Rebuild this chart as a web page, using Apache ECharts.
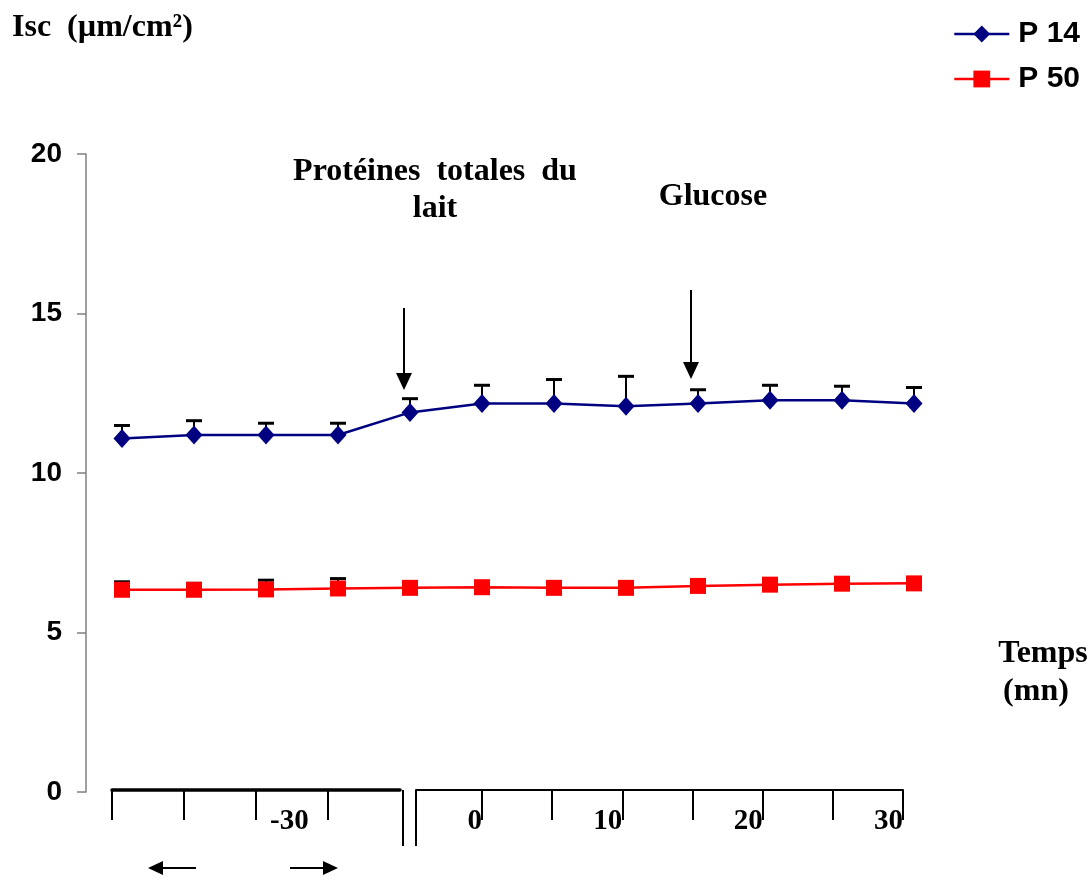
<!DOCTYPE html>
<html><head><meta charset="utf-8">
<script src="https://cdn.jsdelivr.net/npm/echarts@6/dist/echarts.min.js"></script>
<style>html,body{margin:0;padding:0;background:#fff}#c{width:1091px;height:879px}</style>
</head><body><div id="c"></div>
<script>
const categories = ['-25','-20','-15','-10','-5','0','5','10','15','20','25','30'];
const p14 = [11.08,11.19,11.19,11.19,11.90,12.18,12.18,12.09,12.18,12.28,12.28,12.18];
const p14Err = [0.41,0.45,0.37,0.37,0.43,0.57,0.75,0.94,0.43,0.47,0.44,0.50];
const p50 = [6.34,6.34,6.35,6.38,6.40,6.42,6.40,6.40,6.46,6.50,6.53,6.54];
const p50Err = [0.25,0.20,0.29,0.31,0.12,0.10,0.10,0.06,0.10,0.08,0.08,0.08];
const seriesNames = ['P 14','P 50'];
const leftTicks = [-40,-35,-30,-25];
const leftLabels = [-30];
const rightTicks = [0,5,10,15,20,25,30];
const rightLabels = [0,10,20,30];

const serif = 'Liberation Serif';
const sans = 'Liberation Sans';

function errRender(params, api){
  const x = api.value(0), v = api.value(1), e = api.value(2);
  const p0 = api.coord([x, v]);
  const p1 = api.coord([x, v + e]);
  const hw = 8;
  return {type:'group', children:[
    {type:'line', shape:{x1:p0[0],y1:p0[1],x2:p1[0],y2:p1[1]}, style:{stroke:'#000',lineWidth:2}},
    {type:'line', shape:{x1:p1[0]-hw,y1:p1[1],x2:p1[0]+hw,y2:p1[1]}, style:{stroke:'#000',lineWidth:3}}
  ]};
}
function downArrow(x, y1, y2){
  return [
    {type:'line', shape:{x1:x,y1:y1,x2:x,y2:y2-12}, style:{stroke:'#000',lineWidth:2}},
    {type:'polygon', shape:{points:[[x-8,y2-17],[x+8,y2-17],[x,y2]]}, style:{fill:'#000'}}
  ];
}
function hArrow(xFrom, xTip, y){
  const d = xTip > xFrom ? 1 : -1;
  return [
    {type:'line', shape:{x1:xFrom,y1:y,x2:xTip-d*10,y2:y}, style:{stroke:'#000',lineWidth:2}},
    {type:'polygon', shape:{points:[[xTip,y],[xTip-d*15,y-7],[xTip-d*15,y+7]]}, style:{fill:'#000'}}
  ];
}
function txt(text, x, y, size, align){
  return {type:'text', x:x, y:y, style:{text:text, fontFamily:serif, fontWeight:'bold', fontSize:size, fill:'#000', align:align||'center', verticalAlign:'middle'}};
}

const chart = echarts.init(document.getElementById('c'));
const bottomLabel = {fontFamily:serif, fontWeight:'bold', fontSize:29, color:'#000', margin:17};
chart.setOption({
  animation:false,
  backgroundColor:'#fff',
  grid:[
    {left:86, right:141, top:154, bottom:87},
    {left:112, width:288, top:760, bottom:89},
    {left:416, width:487, top:760, bottom:89}
  ],
  legend:{
    data:seriesNames, orient:'vertical', right:6, top:14,
    itemWidth:55, itemHeight:21, itemGap:15,
    lineStyle:{width:2.5},
    textStyle:{fontFamily:sans, fontWeight:'bold', fontSize:30, color:'#000', padding:[0,0,0,4]}
  },
  xAxis:[
    {gridIndex:0, type:'category', data:categories, show:false},
    {gridIndex:1, type:'value', min:-40, max:-20,
      axisLine:{show:true, onZero:false, lineStyle:{color:'#000', width:3.5}},
      axisTick:{show:true, customValues:leftTicks, length:30, lineStyle:{color:'#000', width:2}},
      axisLabel:Object.assign({customValues:leftLabels, align:'left', padding:[0,0,0,14]}, bottomLabel),
      splitLine:{show:false}},
    {gridIndex:2, type:'value', min:-4.7, max:30,
      axisLine:{show:true, onZero:false, lineStyle:{color:'#000', width:2}},
      axisTick:{show:true, customValues:rightTicks, length:30, lineStyle:{color:'#000', width:2}},
      axisLabel:Object.assign({customValues:rightLabels, align:'right'}, bottomLabel),
      splitLine:{show:false}}
  ],
  yAxis:[
    {gridIndex:0, type:'value', min:0, max:20, interval:5,
      axisLine:{show:true, lineStyle:{color:'#808080', width:1.5}},
      axisTick:{show:true, length:9, lineStyle:{color:'#808080', width:1.5}},
      axisLabel:{fontFamily:sans, fontWeight:'bold', fontSize:28, color:'#000', margin:24},
      splitLine:{show:false}},
    {gridIndex:1, type:'value', show:false},
    {gridIndex:2, type:'value', show:false}
  ],
  series:[
    {type:'custom', name:'errP14', xAxisIndex:0, yAxisIndex:0, renderItem:errRender, z:1,
      encode:{x:0, y:1}, data:p14.map((v,i)=>[i, v, p14Err[i]]), silent:true},
    {type:'custom', name:'errP50', xAxisIndex:0, yAxisIndex:0, renderItem:errRender, z:1,
      encode:{x:0, y:1}, data:p50.map((v,i)=>[i, v, p50Err[i]]), silent:true},
    {type:'line', name:seriesNames[0], data:p14, xAxisIndex:0, yAxisIndex:0, z:3,
      symbol:'diamond', symbolSize:[17,19], color:'#000080',
      itemStyle:{color:'#000080'}, lineStyle:{color:'#000080', width:2.5}},
    {type:'line', name:seriesNames[1], data:p50, xAxisIndex:0, yAxisIndex:0, z:3,
      symbol:'rect', symbolSize:16, color:'#FF0000',
      itemStyle:{color:'#FF0000'}, lineStyle:{color:'#FF0000', width:2.5}}
  ],
  graphic:[].concat(
    [txt('Isc  (µm/cm²)', 12, 28, 32, 'left'),
     txt('Protéines  totales  du', 435, 172, 32),
     txt('lait', 435, 209, 32),
     txt('Glucose', 713, 197, 32),
     txt('Temps', 1043, 654, 32),
     txt('(mn)', 1036, 692, 32),
     {type:'line', shape:{x1:403,y1:790,x2:403,y2:846}, style:{stroke:'#000',lineWidth:2}},
     {type:'line', shape:{x1:416,y1:790,x2:416,y2:846}, style:{stroke:'#000',lineWidth:2}}],
    downArrow(404, 308, 390),
    downArrow(691, 290, 379),
    hArrow(196, 148, 868),
    hArrow(290, 338, 868)
  )
});
</script></body></html>
